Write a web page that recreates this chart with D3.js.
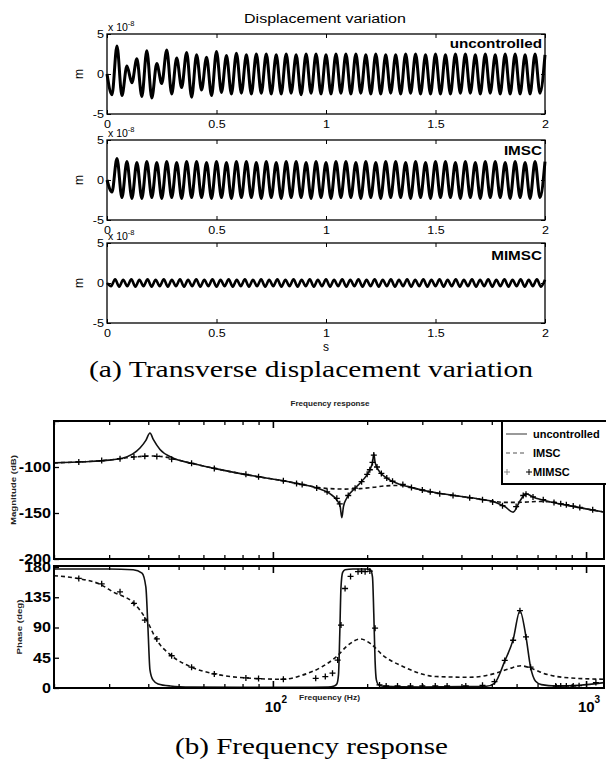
<!DOCTYPE html>
<html>
<head>
<meta charset="utf-8">
<script src="https://cdn.jsdelivr.net/npm/d3@7"></script>
<style>
  body { margin: 0; background: #fff; }
  svg { display: block; font-family: "Liberation Sans", Arial, sans-serif; }
  .caption { font-family: "Times New Roman", "Liberation Serif", Times, serif; }
</style>
</head>
<body>
<div id="chart"></div>
<script>
// (a) displacement traces, successive extrema (x 1e-8 m), evenly spread over 0..2 s
const timeTicks = [0, 0.5, 1, 1.5, 2];
const dispTicks = [-5, 0, 5];

const uncontrolledDisp = [
  0, -2.6, 3.5, -2.7, 1.0, -1.1, 1.9, -2.8, 2.9, -3.0, 1.3, -1.2, 3.0, -2.5, 2.0, -1.7, 2.7, -2.9, 2.4, -2.0, 2.1, -2.7, 2.8, -2.3,
  2.3, -2.5, 2.6, -2.4, 2.4, -2.5, 2.5, -2.4, 2.5, -2.5,
  2.4, -2.5, 2.5, -2.4, 2.4, -2.6, 2.5, -2.4, 2.5, -2.5,
  2.4, -2.5, 2.5, -2.4, 2.5, -2.5, 2.5, -2.4, 2.4, -2.5,
  2.5, -2.5, 2.4, -2.4, 2.4, -2.5, 2.5, -2.4, 2.5, -2.5,
  2.4, -2.5, 2.5, -2.5, 2.4, -2.5, 2.5, -2.4, 2.5, -2.4,
  2.4, -2.5, 2.5, -2.4, 2.4, -2.5, 2.5, -2.5, 2.5, -2.5,
  2.4, -2.5, 2.5, -2.4, 2.4
];

const imscDisp = [
  0, -1.5, 2.7, -2.2, 2.3, -2.3, 2.2, -2.3,
  2.3, -2.2, 2.2, -2.3, 2.3, -2.2, 2.2, -2.3, 2.3, -2.2,
  2.3, -2.2, 2.2, -2.3, 2.3, -2.2, 2.2, -2.3, 2.3, -2.2,
  2.3, -2.2, 2.2, -2.3, 2.3, -2.2, 2.2, -2.3, 2.3, -2.2,
  2.3, -2.2, 2.2, -2.3, 2.3, -2.2, 2.2, -2.3, 2.3, -2.2,
  2.3, -2.2, 2.2, -2.3, 2.3, -2.2, 2.2, -2.3, 2.3, -2.2,
  2.3, -2.2, 2.2, -2.3, 2.3, -2.2, 2.2, -2.3, 2.3, -2.2,
  2.3, -2.2, 2.2, -2.3, 2.3, -2.2, 2.2, -2.3, 2.3, -2.2,
  2.3, -2.2, 2.2, -2.3, 2.3, -2.2, 2.2, -2.3, 2.3, -2.2,
  2.3
];

const mimscDisp = [
  0,
  -0.4, 0.45, -0.45, 0.4, -0.4, 0.45, -0.45, 0.4, -0.4, 0.45, -0.45, 0.4,
  -0.4, 0.45, -0.45, 0.4, -0.4, 0.45, -0.45, 0.4, -0.4, 0.45, -0.45, 0.4,
  -0.4, 0.45, -0.45, 0.4, -0.4, 0.45, -0.45, 0.4, -0.4, 0.45, -0.45, 0.4,
  -0.4, 0.45, -0.45, 0.4, -0.4, 0.45, -0.45, 0.4, -0.4, 0.45, -0.45, 0.4,
  -0.4, 0.45, -0.45, 0.4, -0.4, 0.45, -0.45, 0.4, -0.4, 0.45, -0.45, 0.4,
  -0.4, 0.45, -0.45, 0.4, -0.4, 0.45, -0.45, 0.4, -0.4, 0.45, -0.45, 0.4,
  -0.4, 0.45, -0.45, 0.4, -0.4, 0.45, -0.45, 0.4, -0.4, 0.45, -0.45, 0.4,
  -0.4, 0.45, -0.45, 0.4, -0.4, 0.45, -0.45, 0.4, -0.4, 0.45, -0.45, 0.4,
  -0.4, 0.45, -0.45, 0.4, -0.4, 0.45, -0.45, 0.4, -0.4, 0.45, -0.45, 0.4
];

// (b) frequency response
const magTicks = [-200, -150, -100, -50];
const phaseTicks = [0, 45, 90, 135, 180];
const minorFreqTicks = [20, 30, 40, 50, 60, 70, 80, 90, 200, 300, 400, 500, 600, 700, 800, 900];
const majorFreqTicks = [100, 1000];

const ucMagFreq = [20, 25, 30, 33, 35.6, 37.7, 39.3, 40.5, 41.5, 43.6, 47.8, 55, 65, 73, 90, 108, 124, 138, 152, 160,
  164, 166, 168, 172, 183, 194, 204, 208, 210, 212, 217, 231, 249, 280, 318, 380, 450, 515, 550, 585,
  615, 643, 680, 770, 900, 1000, 1141];
const ucMag = [-95.5, -94.3, -92.5, -90.5, -86, -79, -71, -63, -70, -81, -90, -96, -101.5, -105, -110.6, -115, -119, -122.7, -129, -136,
  -143, -155, -143, -134, -123, -114, -103, -95, -85.7, -95, -103, -112, -117.6, -122.7, -127, -131, -134.5, -138.5, -143, -149,
  -137, -129, -133, -138, -142.5, -145.5, -149];

const imMagFreq = [20, 25, 30, 34, 38, 41, 45, 50, 55, 65, 73, 90, 108, 124, 138, 152, 170, 190, 210, 230,
  260, 280, 318, 380, 450, 500, 550, 600, 650, 700, 760, 900, 1000, 1141];
const imMag = [-95.5, -94.3, -92.5, -90, -88.5, -88, -89, -92.5, -96, -101.5, -105, -110.6, -115, -119, -122, -123.5, -124, -123.5, -122, -120.5,
  -120, -122.7, -127, -131, -134.5, -137, -138.5, -138.5, -138, -137.5, -137.8, -142.5, -145.5, -149];

const miMagFreq = [24, 28.4, 32.5, 36, 39, 42.6, 47.5, 55, 65, 82, 90, 108, 119, 124, 138, 149, 160, 163.5, 174, 183,
  192, 200, 204, 208, 210, 215, 222, 231, 241, 260, 277, 300, 318, 341, 376, 425, 467, 503, 541, 598,
  630, 643, 677, 730, 790, 830, 865, 910, 955, 1050];
const miMag = [-94.5, -93, -91, -89, -88.3, -88.5, -91.5, -96, -101.5, -108, -110.6, -115, -118, -119, -122.7, -127, -134, -140, -131, -123,
  -116, -108, -103, -95, -87, -100, -107, -112, -115.5, -119, -122.4, -125, -127, -129, -131, -133.5, -135.5, -138, -142, -143,
  -131, -129.5, -132.5, -135.5, -138.5, -140, -141, -142.5, -144, -146.5];

const ucPhFreq = [20, 30, 35.8, 38.2, 39.3, 39.9, 40.5, 41.4, 43, 47, 55, 80, 120, 150, 157, 160, 162, 163.5, 165, 167,
  170, 180, 200, 205, 208, 210, 212, 214, 217, 225, 300, 400, 480, 510, 550, 585, 615, 643, 665, 690,
  720, 800, 950, 1141];
const ucPh = [177, 177, 176, 171, 150, 90, 27, 12, 6, 3, 1.5, 1, 1, 1.5, 3, 6, 20, 80, 150, 172,
  176, 177, 177, 176, 165, 110, 40, 12, 5, 2.5, 1.5, 2, 2.5, 7, 40, 72, 115, 76, 31, 10,
  5, 3, 4, 8];

const imPhFreq = [20, 23.8, 28, 31, 36, 39.5, 42.6, 47.5, 55, 65, 82, 108, 124, 144, 159, 175, 190, 205, 224, 260,
  332, 425, 515, 570, 620, 680, 730, 885, 1141];
const imPh = [167, 163, 154.5, 142.5, 126, 101, 71, 48, 31, 21, 15, 13, 19, 32, 46, 65, 73, 66, 49, 32,
  17, 16, 22, 29, 33, 28, 22, 15, 13];

const miPhFreq = [24, 28.4, 32.5, 36, 39, 42.6, 47.5, 55, 65, 82, 90, 108, 137, 147, 155, 161, 165, 170, 177, 187,
  192, 197, 204, 212, 219, 230, 250, 275, 300, 330, 360, 413, 467, 510, 550, 585, 615, 643, 665, 800,
  830, 865, 910, 950, 1075];
const miPh = [163, 155, 143, 126, 101, 73, 48, 31, 21, 15, 14, 13, 14.4, 17, 22, 41.6, 93.6, 148, 166, 173,
  174, 173, 174, 89, 4.5, 3, 3, 3, 3, 3, 3, 3, 4, 9.4, 41, 71, 115, 76, 31, 3,
  3, 3, 3, 3.5, 8];

const W = 606, H = 762;
const svg = d3.select('#chart').append('svg').attr('width', W).attr('height', H);
svg.append('rect').attr('width', W).attr('height', H).attr('fill', '#fff');

// the source figure is stretched sideways, so text gets widened to match
function widen(sel, k) {
  sel.each(function () {
    const len = this.getComputedTextLength();
    if (len > 0) d3.select(this).attr('textLength', len * k).attr('lengthAdjust', 'spacingAndGlyphs');
  });
}

function plainAxis(a) {
  a.select('.domain').remove();
  a.attr('font-family', null).attr('font-size', null);
  a.selectAll('line').attr('stroke', '#000');
  a.selectAll('text').attr('fill', '#000');
}

// ---------- (a) displacement ----------
const topX = d3.scaleLinear().domain([0, 2]).range([107, 545]);
const panelH = 80;
const panels = [
  { name: 'uncontrolled', values: uncontrolledDisp, top: 34, labelDy: 14, width: 3 },
  { name: 'IMSC', values: imscDisp, top: 140, labelDy: 15, width: 3 },
  { name: 'MIMSC', values: mimscDisp, top: 243, labelDy: 17, width: 2.6 }
];

svg.append('text')
  .attr('x', 325).attr('y', 23)
  .attr('text-anchor', 'middle')
  .style('font-size', '12.5px')
  .text('Displacement variation')
  .call(widen, 1.28);

panels.forEach(p => {
  const y = d3.scaleLinear().domain([-5, 5]).range([p.top + panelH, p.top]);
  const step = 2 / (p.values.length - 1);
  const g = svg.append('g');

  g.append('path')
    .datum(p.values)
    .attr('fill', 'none')
    .attr('stroke', '#000')
    .attr('stroke-width', p.width)
    .attr('stroke-linejoin', 'round')
    .attr('d', d3.line().x((d, i) => topX(i * step)).y(d => y(d)).curve(d3.curveMonotoneX));

  g.append('rect')
    .attr('x', topX(0)).attr('y', p.top)
    .attr('width', topX(2) - topX(0)).attr('height', panelH)
    .attr('fill', 'none').attr('stroke', '#000').attr('stroke-width', 1.3);

  g.append('g').attr('transform', `translate(0,${p.top + panelH})`)
    .call(d3.axisBottom(topX).tickValues(timeTicks).tickSize(-4).tickPadding(7).tickFormat(d => String(d)))
    .call(plainAxis)
    .call(a => a.selectAll('text').style('font-size', '10px').call(widen, 1.25));
  g.append('g').attr('transform', `translate(0,${p.top})`)
    .call(d3.axisTop(topX).tickValues(timeTicks).tickSize(-4).tickFormat(''))
    .call(plainAxis);
  g.append('g').attr('transform', `translate(${topX(0)},0)`)
    .call(d3.axisLeft(y).tickValues(dispTicks).tickSize(-4).tickPadding(3).tickFormat(d => String(d)))
    .call(plainAxis)
    .call(a => a.selectAll('text').style('font-size', '10.5px').call(widen, 1.2));
  g.append('g').attr('transform', `translate(${topX(2)},0)`)
    .call(d3.axisRight(y).tickValues(dispTicks).tickSize(-4).tickFormat(''))
    .call(plainAxis);

  // exponent above the axis
  const ex = g.append('text').attr('x', topX(0) + 1).attr('y', p.top - 3).style('font-size', '10.5px');
  ex.append('tspan').text('x 10');
  ex.append('tspan').attr('dy', -5).style('font-size', '7.5px').text('-8');

  g.append('text')
    .attr('transform', `translate(83,${p.top + panelH / 2}) rotate(-90)`)
    .attr('text-anchor', 'middle')
    .style('font-size', '12px')
    .text('m');

  g.append('text')
    .attr('x', topX(2) - 3).attr('y', p.top + p.labelDy)
    .attr('text-anchor', 'end')
    .style('font-size', '12px').style('font-weight', 'bold')
    .text(p.name)
    .call(widen, 1.27);
});

svg.append('text')
  .attr('x', topX(1)).attr('y', 351)
  .attr('text-anchor', 'middle')
  .style('font-size', '12px')
  .text('s');

svg.append('text')
  .attr('class', 'caption')
  .attr('x', 311).attr('y', 377)
  .attr('text-anchor', 'middle')
  .style('font-size', '23px')
  .attr('textLength', 444).attr('lengthAdjust', 'spacingAndGlyphs')
  .text('(a) Transverse displacement variation');

// ---------- (b) frequency response ----------
const fx = d3.scaleLog().domain([20, 1141]).range([54, 604]);
const magY = d3.scaleLinear().domain([-200, -50]).range([559, 421]);
const phY = d3.scaleLinear().domain([0, 180]).range([688, 567]);

svg.append('text')
  .attr('x', 330).attr('y', 406)
  .attr('text-anchor', 'middle')
  .style('font-size', '8px').style('font-weight', 'bold')
  .attr('fill', '#222')
  .attr('textLength', 79).attr('lengthAdjust', 'spacingAndGlyphs')
  .text('Frequency response');

const bodePanels = [
  { y: magY, top: 421, bottom: 559, ticks: magTicks, fmt: d => (d === -50 ? '' : String(d)),
    label: 'Magnitude (dB)', labelX: 16, labelLen: 70,
    series: [
      { f: ucMagFreq, v: ucMag, dash: null },
      { f: imMagFreq, v: imMag, dash: '4,3' }
    ],
    markers: { f: miMagFreq, v: miMag } },
  { y: phY, top: 566, bottom: 688, ticks: phaseTicks, fmt: d => String(d),
    label: 'Phase (deg)', labelX: 22, labelLen: 55,
    series: [
      { f: ucPhFreq, v: ucPh, dash: null },
      { f: imPhFreq, v: imPh, dash: '4,3' }
    ],
    markers: { f: miPhFreq, v: miPh } }
];

const plus = 'M-3,0H3M0,-3V3';

bodePanels.forEach(p => {
  const g = svg.append('g');

  p.series.forEach(s => {
    g.append('path')
      .datum(s.f.map((f, i) => [f, s.v[i]]))
      .attr('fill', 'none')
      .attr('stroke', '#111')
      .attr('stroke-width', 1.6)
      .attr('stroke-dasharray', s.dash)
      .attr('d', d3.line().x(d => fx(d[0])).y(d => p.y(d[1])).curve(d3.curveMonotoneX));
  });

  g.selectAll('.mk')
    .data(p.markers.f.map((f, i) => [f, p.markers.v[i]]))
    .enter().append('path')
    .attr('transform', d => `translate(${fx(d[0])},${p.y(d[1])})`)
    .attr('d', plus)
    .attr('stroke', '#000')
    .attr('stroke-width', 1.3);

  g.append('rect')
    .attr('x', fx.range()[0]).attr('y', p.top)
    .attr('width', fx.range()[1] - fx.range()[0]).attr('height', p.bottom - p.top)
    .attr('fill', 'none').attr('stroke', '#000').attr('stroke-width', 2);

  [[p.bottom, d3.axisBottom], [p.top, d3.axisTop]].forEach(([yy, axis]) => {
    g.append('g').attr('transform', `translate(0,${yy})`)
      .call(axis(fx).tickValues(minorFreqTicks).tickSize(-4).tickFormat(''))
      .call(plainAxis)
      .call(a => a.selectAll('line').attr('stroke-width', 1.3));
    g.append('g').attr('transform', `translate(0,${yy})`)
      .call(axis(fx).tickValues(majorFreqTicks).tickSize(-7).tickFormat(''))
      .call(plainAxis)
      .call(a => a.selectAll('line').attr('stroke-width', 1.6));
  });

  g.append('g').attr('transform', `translate(${fx.range()[0]},0)`)
    .call(d3.axisLeft(p.y).tickValues(p.ticks).tickSize(-5).tickPadding(3).tickFormat(p.fmt))
    .call(plainAxis)
    .call(a => a.selectAll('line').attr('stroke-width', 1.3))
    .call(a => a.selectAll('text')
      .style('font-size', '14px').style('font-weight', 'bold')
      .call(widen, 1.15));

  g.append('text')
    .attr('transform', `translate(${p.labelX},${(p.top + p.bottom) / 2}) rotate(-90)`)
    .attr('text-anchor', 'middle')
    .style('font-size', '8px').style('font-weight', 'bold')
    .attr('fill', '#222')
    .attr('textLength', p.labelLen).attr('lengthAdjust', 'spacingAndGlyphs')
    .text(p.label);
});

// decade labels 10^2, 10^3
majorFreqTicks.forEach(f => {
  const t = svg.append('text')
    .attr('x', fx(f) + 3).attr('y', 712)
    .attr('text-anchor', 'middle')
    .style('font-size', '15px').style('font-weight', 'bold');
  t.append('tspan').text('10');
  t.append('tspan').attr('dy', -9).style('font-size', '10px').text(String(Math.log10(f)));
});

svg.append('text')
  .attr('x', 299).attr('y', 700)
  .style('font-size', '8px').style('font-weight', 'bold')
  .attr('fill', '#222')
  .attr('textLength', 61).attr('lengthAdjust', 'spacingAndGlyphs')
  .text('Frequency  (Hz)');

// legend
const lg = svg.append('g');
lg.append('rect')
  .attr('x', 502).attr('y', 421).attr('width', 112).attr('height', 63)
  .attr('fill', '#fff').attr('stroke', '#000').attr('stroke-width', 2);
const legendItems = [
  { name: 'uncontrolled', y: 434, kind: 'solid' },
  { name: 'IMSC', y: 453, kind: 'dash' },
  { name: 'MIMSC', y: 472, kind: 'plus' }
];
legendItems.forEach(it => {
  if (it.kind === 'plus') {
    [507, 529].forEach(x => lg.append('path')
      .attr('transform', `translate(${x},${it.y})`)
      .attr('d', plus)
      .attr('stroke', x < 520 ? '#888' : '#000').attr('stroke-width', 1));
  } else {
    lg.append('line')
      .attr('x1', 506).attr('x2', 527).attr('y1', it.y).attr('y2', it.y)
      .attr('stroke', '#555').attr('stroke-width', 1.2)
      .attr('stroke-dasharray', it.kind === 'dash' ? '4,3' : null);
  }
  lg.append('text')
    .attr('x', 533).attr('y', it.y + 4)
    .style('font-size', '11px').style('font-weight', 'bold')
    .text(it.name);
});

svg.append('text')
  .attr('class', 'caption')
  .attr('x', 311.5).attr('y', 754)
  .attr('text-anchor', 'middle')
  .style('font-size', '23px')
  .attr('textLength', 273).attr('lengthAdjust', 'spacingAndGlyphs')
  .text('(b) Frequency response');
</script>
</body>
</html>
